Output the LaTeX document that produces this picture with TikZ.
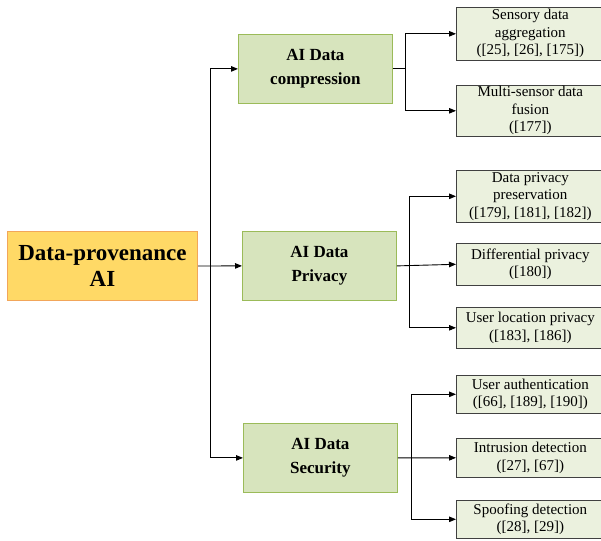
\documentclass[tikz,border=0pt]{standalone}
\usepackage{fontspec}
\setmainfont{Liberation Serif}
\newfontfamily\timesfam{Liberation Serif}
\usetikzlibrary{arrows.meta,shadows}
\definecolor{rootfill}{HTML}{FFD966}
\definecolor{rootline}{HTML}{F2A65A}
\definecolor{midfill}{HTML}{D7E4BD}
\definecolor{midline}{HTML}{9BBB59}
\definecolor{leaffill}{HTML}{EBF1DE}
\tikzset{
  rootbox/.style={draw=rootline, line width=1pt, fill=rootfill, anchor=north west,
    minimum width=190pt, minimum height=69pt, inner sep=0pt, align=center,
    font=\timesfam\fontsize{23}{26}\selectfont\bfseries},
  midbox/.style={draw=midline, line width=0.8pt, fill=midfill, anchor=north west,
    minimum width=154pt, minimum height=69pt, inner sep=0pt, align=center,
    font=\timesfam\fontsize{17}{24}\selectfont\bfseries},
  leafbox/.style={draw=black!75, line width=0.6pt, fill=leaffill, anchor=north west,
    minimum width=148pt, inner sep=0pt, align=center,
    drop shadow={shadow xshift=0.9pt, shadow yshift=-0.9pt, fill=black!70, opacity=1},
    font=\timesfam\fontsize{15}{17.5}\selectfont},
  link/.style={draw=black, line width=0.9pt},
  arr/.style={link, -{Triangle[length=7pt,width=5.5pt]}}
}
\begin{document}
\begin{tikzpicture}[x=1pt,y=-1pt]
  \clip (0,0) rectangle (601,540);
  \fill[white] (0,0) rectangle (601,540);

  % root and second level
  \node[rootbox] (root) at (7,231) {Data-provenance\\AI};
  \node[midbox] (comp) at (238,34) {AI Data\\compression};
  \node[midbox] (priv) at (242,231) {AI Data\\Privacy};
  \node[midbox] (sec) at (243,423) {AI Data\\Security};

  % leaves
  \node[leafbox, minimum height=53pt] (l1) at (456,7) {Sensory data\\aggregation\\([25], [26], [175])};
  \node[leafbox, minimum height=51pt] (l2) at (456,85) {Multi-sensor data\\fusion\\([177])};
  \node[leafbox, minimum height=52pt] (l3) at (456,170) {Data privacy\\preservation\\([179], [181], [182])};
  \node[leafbox, minimum height=42pt] (l4) at (456,243) {Differential privacy\\([180])};
  \node[leafbox, minimum height=41pt] (l5) at (456,307) {User location privacy\\([183], [186])};
  \node[leafbox, minimum height=38pt] (l6) at (456,375) {User authentication\\([66], [189], [190])};
  \node[leafbox, minimum height=39pt] (l7) at (456,438) {Intrusion detection\\([27], [67])};
  \node[leafbox, minimum height=38pt] (l8) at (456,500) {Spoofing detection\\([28], [29])};

  % bus lines
  \coordinate (t0) at (210,0);
  \coordinate (t1) at (405,0);
  \coordinate (t2) at (409,0);
  \coordinate (t3) at (411,0);

  \draw[arr] (root.east) -- (priv.west);
  \draw[arr] (root.east -| t0) |- (comp.west);
  \draw[arr] (root.east -| t0) |- (sec.west);

  \draw[link] (comp.east) -- (comp.east -| t1);
  \draw[arr] (comp.east -| t1) |- (l1.west);
  \draw[arr] (comp.east -| t1) |- (l2.west);

  \draw[arr] (priv.east) -- (l4.west);
  \draw[arr] (priv.east -| t2) |- (l3.west);
  \draw[arr] (priv.east -| t2) |- (l5.west);

  \draw[arr] (sec.east) -- (l7.west);
  \draw[arr] (sec.east -| t3) |- (l6.west);
  \draw[arr] (sec.east -| t3) |- (l8.west);
\end{tikzpicture}
\end{document}
